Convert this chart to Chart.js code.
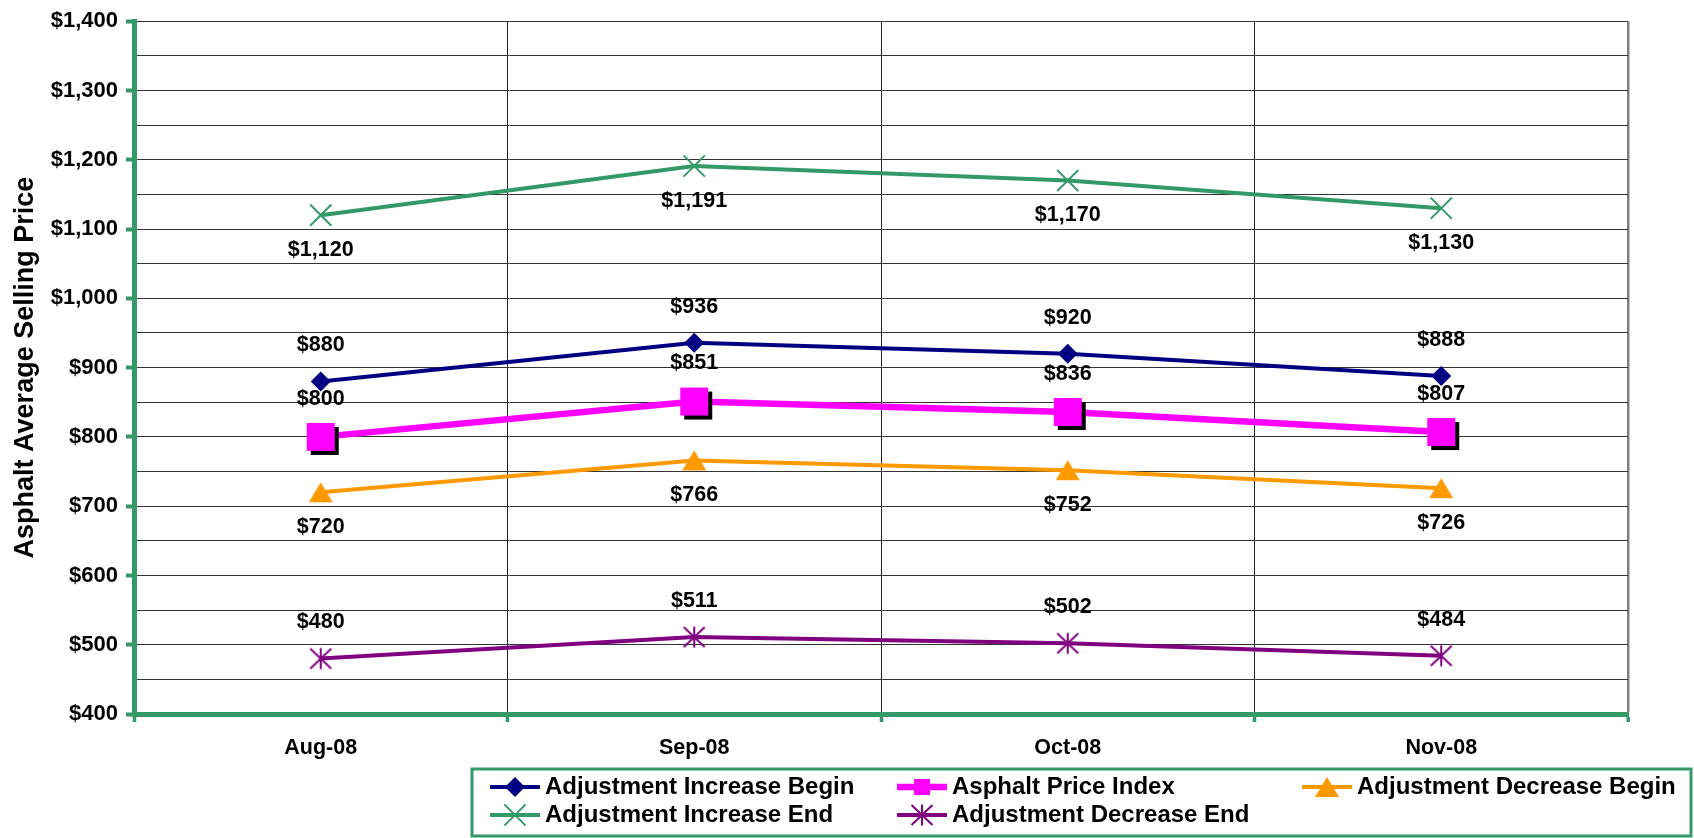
<!DOCTYPE html>
<html>
<head>
<meta charset="utf-8">
<script src="https://cdn.jsdelivr.net/npm/chart.js@4.4.1/dist/chart.umd.min.js"></script>
<style>
  html, body { margin: 0; padding: 0; background: #fff; }
  #wrap { width: 1694px; height: 838px; position: relative; }
</style>
</head>
<body>
<div id="wrap"><canvas id="priceChart"></canvas></div>
<script>
// ---- data -------------------------------------------------------------
const months = ['Aug-08', 'Sep-08', 'Oct-08', 'Nov-08'];
const increaseBegin = [880, 936, 920, 888];
const priceIndex = [800, 851, 836, 807];
const decreaseBegin = [720, 766, 752, 726];
const increaseEnd = [1120, 1191, 1170, 1130];
const decreaseEnd = [480, 511, 502, 484];
const yMin = 400, yMax = 1400, yStep = 50, yLabelStep = 100;

const GREEN = '#339966';
const FONT = "'Liberation Sans', Arial, sans-serif";

// small canvases used as point styles
function makeMarker(w, h, draw) {
    const c = document.createElement('canvas');
    c.width = w; c.height = h;
    draw(c.getContext('2d'));
    return c;
}
const squareMarker = makeMarker(40, 40, g => {
    g.fillStyle = '#000'; g.fillRect(10, 10, 28, 28);
    g.fillStyle = '#FF00FF'; g.fillRect(6, 6, 28, 28);
});
const legendSquare = makeMarker(18, 18, g => {
    g.fillStyle = '#FF00FF'; g.fillRect(1, 1, 16, 16);
});
const triangleMarker = makeMarker(26, 22, g => {
    g.fillStyle = '#FF9900';
    g.beginPath(); g.moveTo(13, 1); g.lineTo(25, 21); g.lineTo(1, 21); g.closePath(); g.fill();
});
const asteriskMarker = makeMarker(24, 24, g => {
    g.strokeStyle = '#800080'; g.lineWidth = 2;
    g.beginPath();
    g.moveTo(12, 1.5); g.lineTo(12, 22.5);
    g.moveTo(1.5, 2); g.lineTo(22.5, 22);
    g.moveTo(1.5, 22); g.lineTo(22.5, 2);
    g.stroke();
});

function drawMarker(ctx, ds, x, y) {
    const style = ds.legendStyle || ds.pointStyle;
    if (style instanceof HTMLCanvasElement) {
        ctx.drawImage(style, x - style.width / 2, y - style.height / 2);
        return;
    }
    const r = ds.pointRadius;
    ctx.fillStyle = ds.pointBackgroundColor;
    ctx.strokeStyle = ds.pointBorderColor;
    ctx.lineWidth = ds.pointBorderWidth;
    ctx.beginPath();
    if (style === 'rectRot') {
        ctx.moveTo(x - r, y); ctx.lineTo(x, y - r); ctx.lineTo(x + r, y); ctx.lineTo(x, y + r);
        ctx.closePath(); ctx.fill();
    } else if (style === 'crossRot') {
        const d = r * Math.SQRT1_2;
        ctx.moveTo(x - d, y - d); ctx.lineTo(x + d, y + d);
        ctx.moveTo(x - d, y + d); ctx.lineTo(x + d, y - d);
        ctx.stroke();
    }
}

// value labels above / below points
const valueLabels = {
    id: 'valueLabels',
    afterDatasetsDraw(chart) {
        const ctx = chart.ctx;
        ctx.save();
        ctx.font = 'bold 21.5px ' + FONT;
        ctx.fillStyle = '#000';
        ctx.textAlign = 'center';
        ctx.textBaseline = 'middle';
        chart.data.datasets.forEach((ds, i) => {
            chart.getDatasetMeta(i).data.forEach((pt, j) => {
                ctx.fillText('$' + ds.data[j].toLocaleString('en-US'), pt.x, pt.y + ds.labelOffset);
            });
        });
        ctx.restore();
    }
};

// boxed legend at the bottom, 3 columns
const legendBox = {
    id: 'legendBox',
    afterDraw(chart) {
        const ctx = chart.ctx;
        const cols = [515, 922, 1327], rows = [787, 815];
        ctx.save();
        ctx.strokeStyle = GREEN;
        ctx.lineWidth = 3;
        ctx.strokeRect(472, 769, 1219, 67);
        chart.data.datasets.forEach((ds, i) => {
            const cx = cols[i % 3], cy = rows[Math.floor(i / 3)];
            ctx.strokeStyle = ds.borderColor;
            ctx.lineWidth = ds.borderWidth;
            ctx.beginPath(); ctx.moveTo(cx - 25, cy); ctx.lineTo(cx + 25, cy); ctx.stroke();
            drawMarker(ctx, ds, cx, cy);
            ctx.fillStyle = '#000';
            ctx.font = 'bold 24px ' + FONT;
            ctx.textAlign = 'left';
            ctx.textBaseline = 'middle';
            ctx.fillText(ds.label, cx + 30, cy);
        });
        ctx.restore();
    }
};

const ctx = document.getElementById('priceChart');
const priceChart = new Chart(ctx, {
    type: 'line',
    data: {
        labels: months,
        datasets: [{
            label: 'Adjustment Increase Begin',
            data: increaseBegin,
            borderColor: '#000080', borderWidth: 4,
            pointStyle: 'rectRot', pointRadius: 10,
            pointBackgroundColor: '#000080', pointBorderColor: '#000080', pointBorderWidth: 0,
            labelOffset: -36
        }, {
            label: 'Asphalt Price Index',
            data: priceIndex,
            borderColor: '#FF00FF', borderWidth: 6.5,
            pointStyle: squareMarker, legendStyle: legendSquare,
            labelOffset: -38
        }, {
            label: 'Adjustment Decrease Begin',
            data: decreaseBegin,
            borderColor: '#FF9900', borderWidth: 4,
            pointStyle: triangleMarker,
            labelOffset: 35
        }, {
            label: 'Adjustment Increase End',
            data: increaseEnd,
            borderColor: GREEN, borderWidth: 4,
            pointStyle: 'crossRot', pointRadius: 15,
            pointBackgroundColor: GREEN, pointBorderColor: GREEN, pointBorderWidth: 2,
            labelOffset: 35
        }, {
            label: 'Adjustment Decrease End',
            data: decreaseEnd,
            borderColor: '#800080', borderWidth: 4,
            pointStyle: asteriskMarker,
            labelOffset: -36
        }]
    },
    options: {
        responsive: true,
        maintainAspectRatio: false,
        animation: false,
        layout: { padding: { top: 19, right: 66, bottom: 0, left: 0 } },
        plugins: {
            legend: { display: false },
            tooltip: { enabled: false }
        },
        scales: {
            x: {
                offset: true,
                grid: {
                    offset: true,
                    color: c => c.type === 'tick' ? '#222' : '#808080',
                    lineWidth: c => c.type === 'tick' ? 1 : 2.5,
                    tickColor: GREEN, tickLength: 8, tickWidth: 3.5
                },
                border: { color: GREEN, width: 5 },
                ticks: {
                    color: '#000', padding: 13,
                    font: { family: FONT, size: 21.5, weight: 'bold' }
                },
                afterFit: s => { s.height = 124; }
            },
            y: {
                min: yMin,
                max: yMax,
                grid: {
                    color: '#333', lineWidth: 1,
                    tickLength: 8, tickWidth: 4,
                    tickColor: c => (c.tick && c.tick.value % yLabelStep === 0) ? GREEN : 'rgba(0,0,0,0)'
                },
                border: { color: GREEN, width: 5 },
                ticks: {
                    stepSize: yStep, color: '#000', padding: 8,
                    font: { family: FONT, size: 22, weight: 'bold' },
                    callback: v => v % yLabelStep === 0 ? '$' + v.toLocaleString('en-US') : ''
                },
                title: {
                    display: true,
                    text: 'Asphalt Average Selling Price',
                    color: '#000',
                    font: { family: FONT, size: 27, weight: 'bold' },
                    padding: { top: 9, bottom: 0 }
                },
                afterFit: s => { s.width = 134; }
            }
        }
    },
    plugins: [valueLabels, legendBox]
});
</script>
</body>
</html>
